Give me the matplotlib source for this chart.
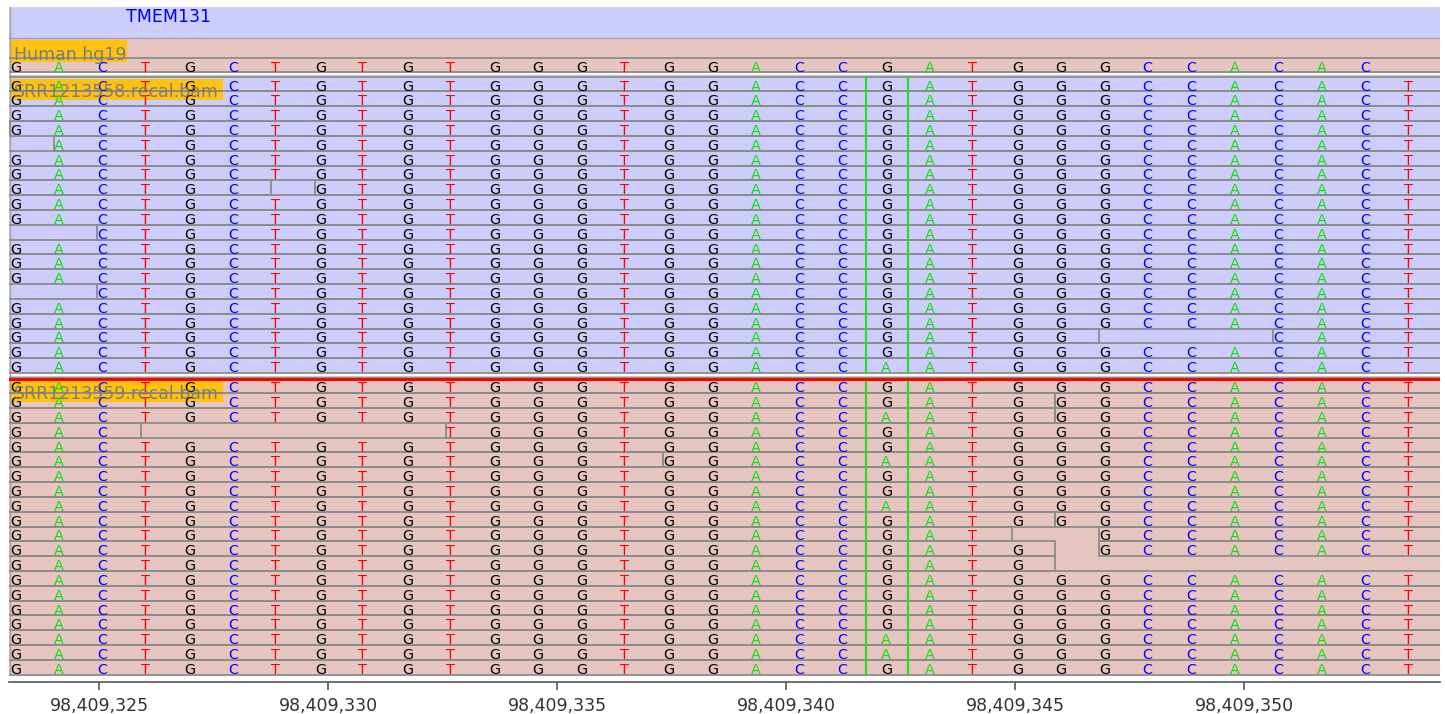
import matplotlib
matplotlib.use("Agg")
import matplotlib.pyplot as plt
from matplotlib.patches import Rectangle
from matplotlib.ticker import FuncFormatter

# reference bases shown in the window (one letter per cell)
bases = list("GACTGCTGTGTGGGTGGACCGATGGGCCACACT")
ref_shown = 32          # reference row stops before the last T

L, R = -10, 50          # read runs off the left / right edge
# one list of reads (first cell, last cell) per row
sample1_reads = [
    [(L, R)], [(L, R)], [(L, R)], [(0, R)], [(1, R)],
    [(L, R)], [(L, R)], [(L, 5), (7, R)], [(L, R)], [(L, R)],
    [(2, R)], [(L, R)], [(L, R)], [(L, R)], [(2, R)],
    [(L, R)], [(L, R)], [(L, 24), (29, R)], [(L, R)], [(L, R)],
]
sample2_reads = [
    [(L, R)], [(L, 23), (24, R)], [(L, 23), (24, R)], [(L, 2), (10, R)], [(L, R)],
    [(L, 14), (15, R)], [(L, R)], [(L, R)], [(L, R)], [(L, 23), (24, R)],
    [(L, 22), (25, R)], [(L, 23), (25, R)], [(L, 23)], [(L, R)], [(L, R)],
    [(L, R)], [(L, R)], [(L, R)], [(L, R)], [(L, R)],
]
# row -> {cell: base} where a read differs from the reference
sample1_mismatch = {19: {20: "A"}}
sample2_mismatch = {2: {20: "A"}, 5: {20: "A"}, 8: {20: "A"},
                    17: {20: "A"}, 18: {20: "A"}}

gene_name = "TMEM131"
genome_name = "Human hg19"
sample_names = ["SRR1213558.recal.bam", "SRR1213559.recal.bam"]
tick_pos = [98409325, 98409330, 98409335, 98409340, 98409345, 98409350]

LAV = "#cdcdfb"
PINK = "#e6c5c0"
ORANGE = "#ffc20e"
GREY = "#8c8c8c"
base_col = {"G": "#000000", "A": "#10e010", "C": "#0000ff", "T": "#ff0000"}
base_fs = 10.4

W, H = 1445, 714
fig = plt.figure(figsize=(W / 100, H / 100), dpi=100)


def px_axes(x0, y0, x1, y1):
    return fig.add_axes([x0 / W, 1 - y1 / H, (x1 - x0) / W, (y1 - y0) / H])


cell = 43.56
x0 = 10.0
ax = px_axes(9, 0, 1440, 714)
ax.set_xlim((9 - x0) / cell, (1440 - x0) / cell)
ax.set_ylim(714, 0)
ax.axis("off")

rh = 14.82
s1_top, s2_top = 76.6, 378.3
s1_bot = s1_top + rh * len(sample1_reads)
s2_bot = s2_top + rh * len(sample2_reads)

# track backgrounds
ax.axhspan(7, 37.5, color=LAV, lw=0, zorder=0)
ax.axhspan(37.5, 72.5, color=PINK, lw=0, zorder=0)
ax.axhspan(s1_top, s1_bot, color=LAV, lw=0, zorder=0)
ax.axhspan(s2_top, s2_bot, color=PINK, lw=0, zorder=0)
ax.axhline(37.5, color="#a0a0b0", lw=1.0, zorder=2)
ax.axhline(74.6, color="#c8c8c8", lw=0.8, zorder=2)
ax.axhline(375.6, color="#c8c8c8", lw=0.8, zorder=2)
ax.plot([-0.01, -0.01], [7, s2_bot], color="#a0a0a0", lw=1.0, zorder=2)

# gene track
ax.text((126 - x0) / cell, 16.5, gene_name, color="#0000ff", fontsize=12.5,
        ha="left", va="center", zorder=4)

# reference sequence
ax.add_patch(Rectangle((-10, 57.5), 60, 14.2, fill=False, ec=GREY, lw=1.3, zorder=2))
for i, b in enumerate(bases[:ref_shown]):
    ax.text(i, 71.6, b, color=base_col[b], fontsize=base_fs, ha="left",
            va="baseline", zorder=3)
ax.add_patch(Rectangle((0, 40), (127 - x0) / cell, 22.3, color=ORANGE, lw=0, zorder=1))
ax.text(0.1, 60.2, genome_name, color="#7a7a7a", fontsize=12.5, ha="left",
        va="baseline", zorder=4)


def draw_sample(top, reads, mism, name, box_top):
    ax.add_patch(Rectangle((0, box_top), (223 - x0) / cell, 21, color=ORANGE,
                           lw=0, zorder=1))
    for k, row in enumerate(reads):
        y = top + k * rh
        for s, e in row:
            ax.add_patch(Rectangle((s, y), e - s + 1, rh, fill=False, ec=GREY,
                                   lw=1.3, zorder=2))
        for i, b in enumerate(bases):
            if not any(s <= i <= e for s, e in row):
                continue
            b = mism.get(k, {}).get(i, b)
            ax.text(i, y + rh - 0.9, b, color=base_col[b], fontsize=base_fs,
                    ha="left", va="baseline", zorder=3)
    bot = top + rh * len(reads)
    for gx in (19.65, 20.62):
        ax.plot([gx, gx], [top, bot], color="#22dd22", lw=1.5, zorder=3)
    ax.text(0.1, box_top + 18.0, name, color="#7a7a7a", fontsize=12.5,
            ha="left", va="baseline", alpha=0.95, zorder=4)


draw_sample(s1_top, sample1_reads, sample1_mismatch, sample_names[0], 79)
draw_sample(s2_top, sample2_reads, sample2_mismatch, sample_names[1], 380.7)
ax.axhline(s2_top + 0.6, color="#ff0000", lw=2.2, zorder=5)

# ruler
rax = px_axes(9, 680.7, 1440, 681.7)
px_base = 45.8
rax.set_xlim(tick_pos[0] - (99 - 9) / px_base, tick_pos[0] + (1440 - 99) / px_base)
rax.set_yticks([])
for sp in ("top", "left", "right"):
    rax.spines[sp].set_visible(False)
rax.spines["bottom"].set_color("#555555")
rax.spines["bottom"].set_linewidth(1.2)
rax.set_xticks(tick_pos)
rax.xaxis.set_major_formatter(FuncFormatter(lambda v, p: f"{v:,.0f}"))
rax.tick_params(axis="x", direction="out", length=6, width=1.2, color="#555555",
                labelsize=12.5, labelcolor="#333333", pad=5)
rax.patch.set_alpha(0)

fig.savefig("out.png", dpi=100)
